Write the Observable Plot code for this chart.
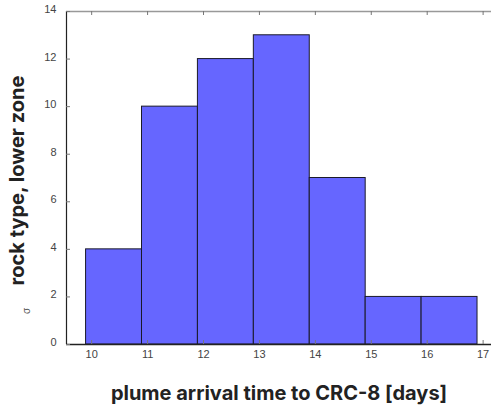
<!DOCTYPE html>
<html>
<head>
<meta charset="utf-8">
<script src="https://cdn.jsdelivr.net/npm/d3@7"></script>
<script src="https://cdn.jsdelivr.net/npm/@observablehq/plot@0.6"></script>
<style>
  html, body { margin: 0; padding: 0; background: #fff; }
</style>
</head>
<body>
<div id="chart"></div>
<script>
const binStart = [9.9, 10.9, 11.9, 12.9, 13.9, 14.9, 15.9];
const binEnd   = [10.9, 11.9, 12.9, 13.9, 14.9, 15.9, 16.9];
const counts   = [4, 10, 12, 13, 7, 2, 2];
const xTicks = [10, 11, 12, 13, 14, 15, 16, 17];
const yTicks = [0, 2, 4, 6, 8, 10, 12, 14];
const xDomain = [9.55, 17.15];
const yDomain = [0, 14];
const xTitle = "plume arrival time to CRC-8 [days]";
const yTitle = "rock type, lower zone";
const yNote = "σ";

const bars = binStart.map((s, i) => ({x1: s, x2: binEnd[i], count: counts[i]}));

const chart = Plot.plot({
  width: 491,
  height: 405,
  marginLeft: 66,
  marginRight: 0,
  marginTop: 11,
  marginBottom: 61,
  style: {fontFamily: "'Liberation Sans', Arial, sans-serif", fontSize: "11px", overflow: "visible", background: "#fff"},
  x: {domain: xDomain},
  y: {domain: yDomain},
  marks: [
    Plot.rectY(bars, {x1: "x1", x2: "x2", y: "count", fill: "#6666ff", stroke: "#1a1a2a", strokeWidth: 1}),
    Plot.ruleY([yDomain[1]], {stroke: "#999", strokeWidth: 1.5}),
    Plot.ruleY([yDomain[0]], {stroke: "#222", strokeWidth: 1.5}),
    Plot.ruleX([xDomain[0]], {stroke: "#222", strokeWidth: 1.2}),
    Plot.tickX(xTicks, {x: d => d, insetTop: 329, stroke: "#777", strokeWidth: 1}),
    Plot.tickX(xTicks, {x: d => d, insetBottom: 329, stroke: "#777", strokeWidth: 1}),
    Plot.tickY(yTicks, {y: d => d, insetRight: 421, stroke: "#777", strokeWidth: 1}),
    Plot.axisX(xTicks, {tickSize: 0, tickPadding: 6, label: null, color: "#444"}),
    Plot.axisY(yTicks, {tickSize: 0, tickPadding: 10, label: null, dy: -2, color: "#444"}),
    Plot.text([xTitle], {text: d => d, frameAnchor: "bottom", textAnchor: "middle", lineAnchor: "middle", dy: 49, fontWeight: "bold", fontSize: 20, fontFamily: "Inter, sans-serif", fill: "#222"}),
    Plot.text([yTitle], {text: d => d, frameAnchor: "left", textAnchor: "middle", lineAnchor: "middle", rotate: -90, dx: -49, dy: 2.5, fontWeight: "bold", fontSize: 20, fontFamily: "Inter, sans-serif", fill: "#222"}),
    Plot.text([yNote], {text: d => d, frameAnchor: "left", textAnchor: "middle", lineAnchor: "middle", rotate: -90, dx: -40, dy: 133, fontSize: 10, fill: "#555"})
  ]
});
document.getElementById("chart").appendChild(chart);
</script>
</body>
</html>
